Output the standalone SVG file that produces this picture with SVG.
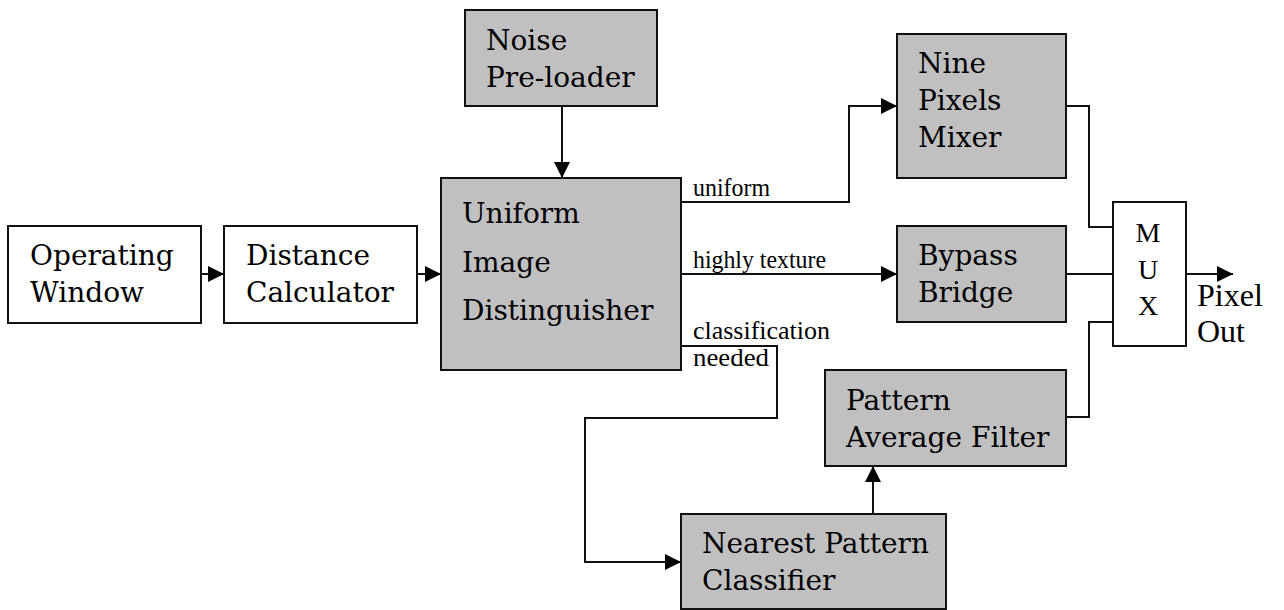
<svg xmlns="http://www.w3.org/2000/svg" width="1284" height="610" viewBox="0 0 1284 610">
<style>
.box{stroke:#111;stroke-width:2;}
.w{fill:#fff;}
.g{fill:#c0c0c0;}
.t{font-family:"DejaVu Serif",serif;font-size:28px;fill:#000;}
.m{font-family:"Liberation Serif",serif;font-size:28px;fill:#000;text-anchor:middle;}
.o{font-family:"Liberation Serif",serif;font-size:32px;fill:#000;}
.l{font-family:"Liberation Serif",serif;font-size:25px;fill:#000;}
.c{fill:none;stroke:#111;stroke-width:2;}
</style>
<defs>
<marker id="arr" markerUnits="userSpaceOnUse" markerWidth="16" markerHeight="16" refX="16" refY="8" orient="auto">
<path d="M0,0 L16,8 L0,16 z" fill="#000"/>
</marker>
</defs>
<rect width="1284" height="610" fill="#fff"/>
<g id="connectors">
<path class="c" d="M201,274 H224" marker-end="url(#arr)"/>
<path class="c" d="M417,274 H441" marker-end="url(#arr)"/>
<path class="c" d="M562,106 V178" marker-end="url(#arr)"/>
<path class="c" d="M681,202 H849 V106 H897" marker-end="url(#arr)"/>
<path class="c" d="M681,274 H897" marker-end="url(#arr)"/>
<path class="c" d="M681,346 H777 V418 H585 V562 H681" marker-end="url(#arr)"/>
<path class="c" d="M873,514 V466" marker-end="url(#arr)"/>
<path class="c" d="M1066,106 H1089 V227 H1113"/>
<path class="c" d="M1066,274 H1113"/>
<path class="c" d="M1066,417 H1089 V322 H1113"/>
<path class="c" d="M1186,274 H1233" marker-end="url(#arr)"/>
<text class="l" x="693" y="196" textLength="77" lengthAdjust="spacingAndGlyphs">uniform</text>
<text class="l" x="693" y="268" textLength="133" lengthAdjust="spacingAndGlyphs">highly texture</text>
<text class="l" x="693" y="339" textLength="137" lengthAdjust="spacingAndGlyphs">classification</text>
<text class="l" x="693" y="366" textLength="76" lengthAdjust="spacingAndGlyphs">needed</text>
</g>
<g id="operating-window">
<rect class="box w" x="8" y="226" width="193" height="97"/>
<text class="t" x="30" y="265">Operating</text>
<text class="t" x="30" y="302">Window</text>
</g>
<g id="distance-calculator">
<rect class="box w" x="224" y="226" width="193" height="97"/>
<text class="t" x="246" y="265">Distance</text>
<text class="t" x="246" y="302">Calculator</text>
</g>
<g id="noise-preloader">
<rect class="box g" x="465" y="10" width="192" height="96"/>
<text class="t" x="486" y="50">Noise</text>
<text class="t" x="486" y="87">Pre-loader</text>
</g>
<g id="uniform-image-distinguisher">
<rect class="box g" x="441" y="178" width="240" height="192"/>
<text class="t" x="462" y="223">Uniform</text>
<text class="t" x="462" y="272">Image</text>
<text class="t" x="462" y="320">Distinguisher</text>
</g>
<g id="nine-pixels-mixer">
<rect class="box g" x="897" y="34" width="169" height="144"/>
<text class="t" x="918" y="73">Nine</text>
<text class="t" x="918" y="110">Pixels</text>
<text class="t" x="918" y="147">Mixer</text>
</g>
<g id="bypass-bridge">
<rect class="box g" x="897" y="226" width="169" height="96"/>
<text class="t" x="918" y="265">Bypass</text>
<text class="t" x="918" y="302">Bridge</text>
</g>
<g id="pattern-average-filter">
<rect class="box g" x="825" y="370" width="241" height="96"/>
<text class="t" x="846" y="410">Pattern</text>
<text class="t" x="846" y="447">Average Filter</text>
</g>
<g id="nearest-pattern-classifier">
<rect class="box g" x="681" y="514" width="265" height="95"/>
<text class="t" x="702" y="553">Nearest Pattern</text>
<text class="t" x="702" y="590">Classifier</text>
</g>
<g id="mux">
<rect class="box w" x="1113" y="202" width="73" height="144"/>
<text class="m" x="1148" y="242">M</text>
<text class="m" x="1148" y="279">U</text>
<text class="m" x="1148" y="315">X</text>
</g>
<g id="pixel-out">
<text class="o" x="1197" y="306">Pixel</text>
<text class="o" x="1197" y="342">Out</text>
</g>
</svg>
